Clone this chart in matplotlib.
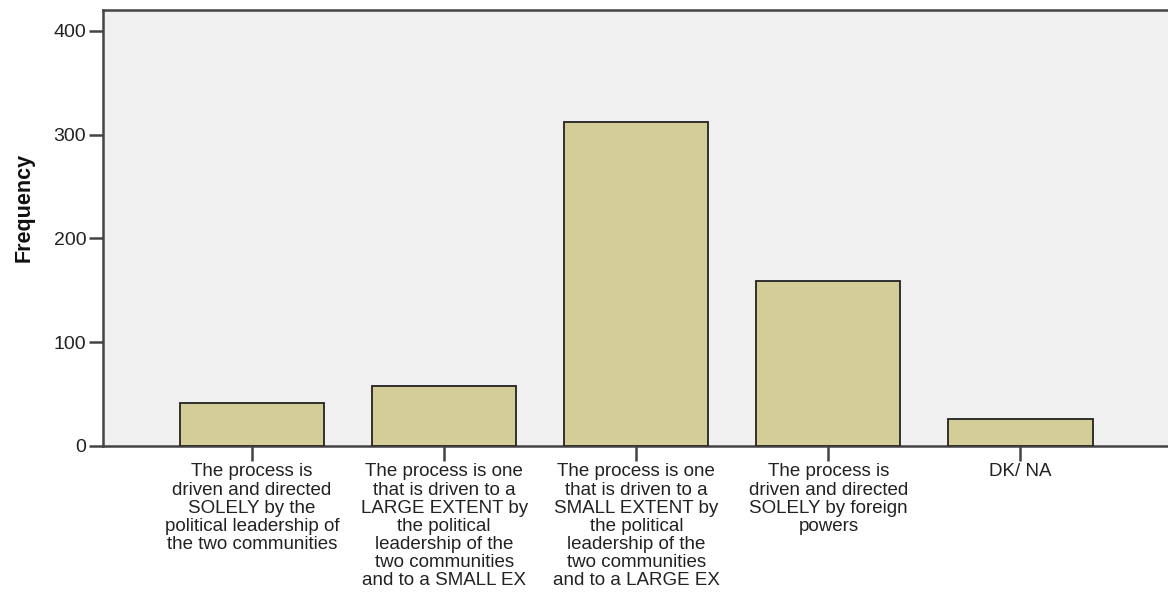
import matplotlib
matplotlib.use("Agg")
import matplotlib.pyplot as plt

categories = [
    "The process is\ndriven and directed\nSOLELY by the\npolitical leadership of\nthe two communities",
    "The process is one\nthat is driven to a\nLARGE EXTENT by\nthe political\nleadership of the\ntwo communities\nand to a SMALL EX",
    "The process is one\nthat is driven to a\nSMALL EXTENT by\nthe political\nleadership of the\ntwo communities\nand to a LARGE EX",
    "The process is\ndriven and directed\nSOLELY by foreign\npowers",
    "DK/ NA",
]
frequencies = [41, 58, 312, 159, 26]
y_ticks = [0, 100, 200, 300, 400]

plt.rcParams["font.family"] = ["Liberation Sans", "DejaVu Sans"]

fig = plt.figure(figsize=(11.68, 6.10), dpi=100)
ax = fig.add_axes([103 / 1168, 1 - 446 / 610, 1 - 103 / 1168 + 0.002, (446 - 10) / 610])
ax.set_facecolor("#F0F0F0")

x = list(range(len(categories)))
ax.bar(x, frequencies, width=0.75, color="#D3CE98", edgecolor="#222222", linewidth=1.3, zorder=3)

ax.set_xlim(-0.776, 4.78)
ax.set_ylim(0, 420)
ax.set_yticks(y_ticks)
ax.set_yticklabels([str(v) for v in y_ticks], fontsize=14, color="#222222")
ax.set_xticks(x)
ax.set_xticklabels(categories, fontsize=13.5, color="#222222", linespacing=1.09, va="top")

for side in ("left", "bottom", "top"):
    ax.spines[side].set_color("#444444")
    ax.spines[side].set_linewidth(1.8)
ax.spines["right"].set_visible(False)

ax.tick_params(axis="y", direction="out", length=10, width=1.8, color="#444444", pad=2)
ax.tick_params(axis="x", direction="out", length=11, width=1.8, color="#444444", pad=1.5)

fig.text(24 / 1168, 1 - 207 / 610, "Frequency", rotation=90, ha="center", va="center",
         fontsize=15.5, fontweight="bold", color="#111111")

fig.savefig("out.png", dpi=100)
